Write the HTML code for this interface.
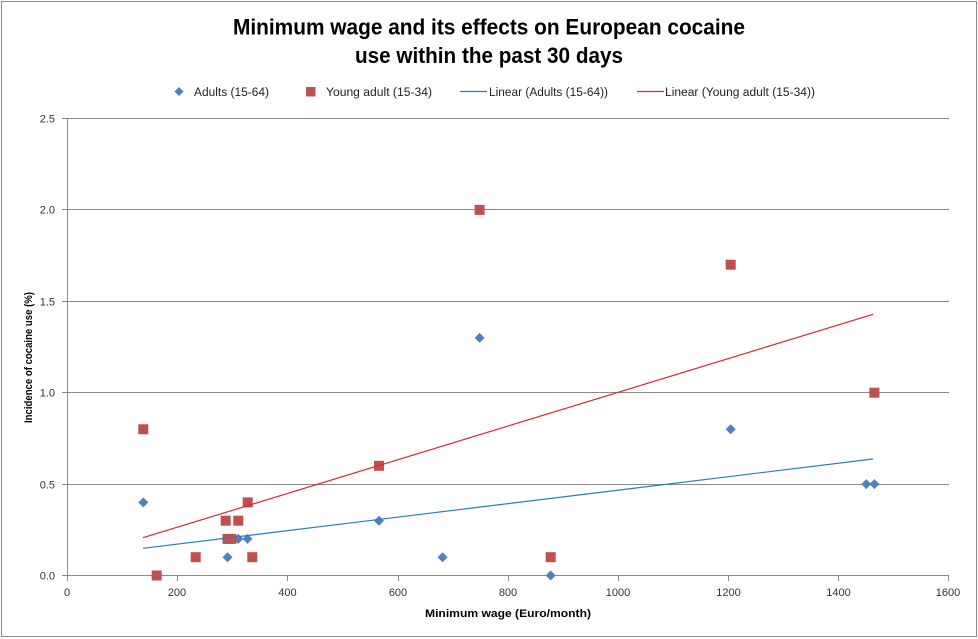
<!DOCTYPE html>
<html>
<head>
<meta charset="utf-8">
<style>
html,body{margin:0;padding:0;background:#fff;}
svg{display:block;}
text{font-family:"Liberation Sans",sans-serif;}
</style>
</head>
<body>
<svg width="978" height="639" viewBox="0 0 978 639" xmlns="http://www.w3.org/2000/svg">
<rect x="0" y="0" width="978" height="639" fill="#fff"/>
<rect x="1.5" y="1.5" width="975" height="635" fill="none" stroke="#8a8a8a" stroke-width="1"/>

<!-- Title -->
<text x="489" y="34.5" font-size="22" font-weight="bold" text-anchor="middle" fill="#000" textLength="512" lengthAdjust="spacingAndGlyphs">Minimum wage and its effects on European cocaine</text>
<text x="489" y="63" font-size="22" font-weight="bold" text-anchor="middle" fill="#000" textLength="268" lengthAdjust="spacingAndGlyphs">use within the past 30 days</text>

<!-- Legend -->
<polygon points="179,87 183.5,91.5 179,96 174.5,91.5" fill="#4F81BD"/>
<text x="194" y="96" font-size="11.5" fill="#222" textLength="75" lengthAdjust="spacingAndGlyphs">Adults (15-64)</text>
<rect x="306" y="87" width="9.5" height="9.5" fill="#C0504D"/>
<text x="326" y="96" font-size="11.5" fill="#222" textLength="106" lengthAdjust="spacingAndGlyphs">Young adult (15-34)</text>
<line x1="460" y1="91.5" x2="487" y2="91.5" stroke="#2C7EB8" stroke-width="1.2"/>
<text x="489" y="96" font-size="11.5" fill="#222" textLength="119" lengthAdjust="spacingAndGlyphs">Linear (Adults (15-64))</text>
<line x1="637" y1="91.5" x2="664" y2="91.5" stroke="#E0262F" stroke-width="1.2"/>
<text x="665" y="96" font-size="11.5" fill="#222" textLength="150" lengthAdjust="spacingAndGlyphs">Linear (Young adult (15-34))</text>

<!-- Gridlines -->
<g stroke="#8a8a8a" stroke-width="1">
<line x1="67" y1="118.5" x2="949" y2="118.5"/>
<line x1="67" y1="209.5" x2="949" y2="209.5"/>
<line x1="67" y1="301.5" x2="949" y2="301.5"/>
<line x1="67" y1="392.5" x2="949" y2="392.5"/>
<line x1="67" y1="484.5" x2="949" y2="484.5"/>
<!-- axes -->
<line x1="67.5" y1="118" x2="67.5" y2="576"/>
<line x1="62" y1="575.5" x2="949" y2="575.5"/>
<!-- y ticks -->
<line x1="62" y1="118.5" x2="67" y2="118.5"/>
<line x1="62" y1="209.5" x2="67" y2="209.5"/>
<line x1="62" y1="301.5" x2="67" y2="301.5"/>
<line x1="62" y1="392.5" x2="67" y2="392.5"/>
<line x1="62" y1="484.5" x2="67" y2="484.5"/>
<!-- x ticks -->
<line x1="67.5" y1="575" x2="67.5" y2="581"/>
<line x1="177.5" y1="575" x2="177.5" y2="581"/>
<line x1="287.5" y1="575" x2="287.5" y2="581"/>
<line x1="398.5" y1="575" x2="398.5" y2="581"/>
<line x1="508.5" y1="575" x2="508.5" y2="581"/>
<line x1="618.5" y1="575" x2="618.5" y2="581"/>
<line x1="728.5" y1="575" x2="728.5" y2="581"/>
<line x1="838.5" y1="575" x2="838.5" y2="581"/>
<line x1="948.5" y1="575" x2="948.5" y2="581"/>
</g>

<!-- Y tick labels -->
<g font-size="11" fill="#333" text-anchor="end">
<text x="55" y="122.5">2.5</text>
<text x="55" y="213.5">2.0</text>
<text x="55" y="305.5">1.5</text>
<text x="55" y="396.5">1.0</text>
<text x="55" y="488.5">0.5</text>
<text x="55" y="579.5">0.0</text>
</g>
<!-- X tick labels -->
<g font-size="11" fill="#333" text-anchor="middle">
<text x="67" y="596">0</text>
<text x="177" y="596">200</text>
<text x="287.5" y="596">400</text>
<text x="398" y="596">600</text>
<text x="508" y="596">800</text>
<text x="618" y="596">1000</text>
<text x="728.5" y="596">1200</text>
<text x="838.5" y="596">1400</text>
<text x="948" y="596">1600</text>
</g>

<!-- Axis titles -->
<text x="425" y="617" font-size="11" font-weight="bold" fill="#000" textLength="166" lengthAdjust="spacingAndGlyphs">Minimum wage (Euro/month)</text>
<text transform="translate(32,357.5) rotate(-90)" x="0" y="0" font-size="11" font-weight="bold" fill="#000" text-anchor="middle" textLength="131" lengthAdjust="spacingAndGlyphs">Incidence of cocaine use (%)</text>

<!-- Adults diamonds -->
<g fill="#4F81BD">
<polygon points="143.3,497.4 148.3,502.4 143.3,507.4 138.3,502.4"/>
<polygon points="227.5,552.2 232.5,557.2 227.5,562.2 222.5,557.2"/>
<polygon points="226,533.9 231,538.9 226,543.9 221,538.9"/>
<polygon points="238.3,533.9 243.3,538.9 238.3,543.9 233.3,538.9"/>
<polygon points="247.5,533.9 252.5,538.9 247.5,543.9 242.5,538.9"/>
<polygon points="379,515.7 384,520.7 379,525.7 374,520.7"/>
<polygon points="442.6,552.2 447.6,557.2 442.6,562.2 437.6,557.2"/>
<polygon points="550.7,570.5 555.7,575.5 550.7,580.5 545.7,575.5"/>
<polygon points="730.7,424.3 735.7,429.3 730.7,434.3 725.7,429.3"/>
<polygon points="866.3,479.1 871.3,484.1 866.3,489.1 861.3,484.1"/>
<polygon points="874.4,479.1 879.4,484.1 874.4,489.1 869.4,484.1"/>
<polygon points="479.6,332.9 484.6,337.9 479.6,342.9 474.6,337.9"/>
</g>

<!-- Young adult squares -->
<g fill="#C0504D">
<rect x="138.3" y="424.3" width="10" height="10"/>
<rect x="151.7" y="570.5" width="10" height="10"/>
<rect x="190.7" y="552.2" width="10" height="10"/>
<rect x="220.7" y="515.7" width="10" height="10"/>
<rect x="233.3" y="515.7" width="10" height="10"/>
<rect x="242.7" y="497.4" width="10" height="10"/>
<rect x="222.5" y="533.9" width="10" height="10"/>
<rect x="226.5" y="533.9" width="10" height="10"/>
<rect x="247.3" y="552.2" width="10" height="10"/>
<rect x="374" y="460.8" width="10" height="10"/>
<rect x="474.6" y="204.9" width="10" height="10"/>
<rect x="545.7" y="552.2" width="10" height="10"/>
<rect x="725.7" y="259.7" width="10" height="10"/>
<rect x="869.4" y="387.7" width="10" height="10"/>
</g>

<!-- Trend lines -->
<line x1="143" y1="548.3" x2="873" y2="459" stroke="#2C7EB8" stroke-width="1.2"/>
<line x1="143" y1="537.7" x2="873" y2="314.3" stroke="#E0262F" stroke-width="1.2"/>
</svg>
</body>
</html>
